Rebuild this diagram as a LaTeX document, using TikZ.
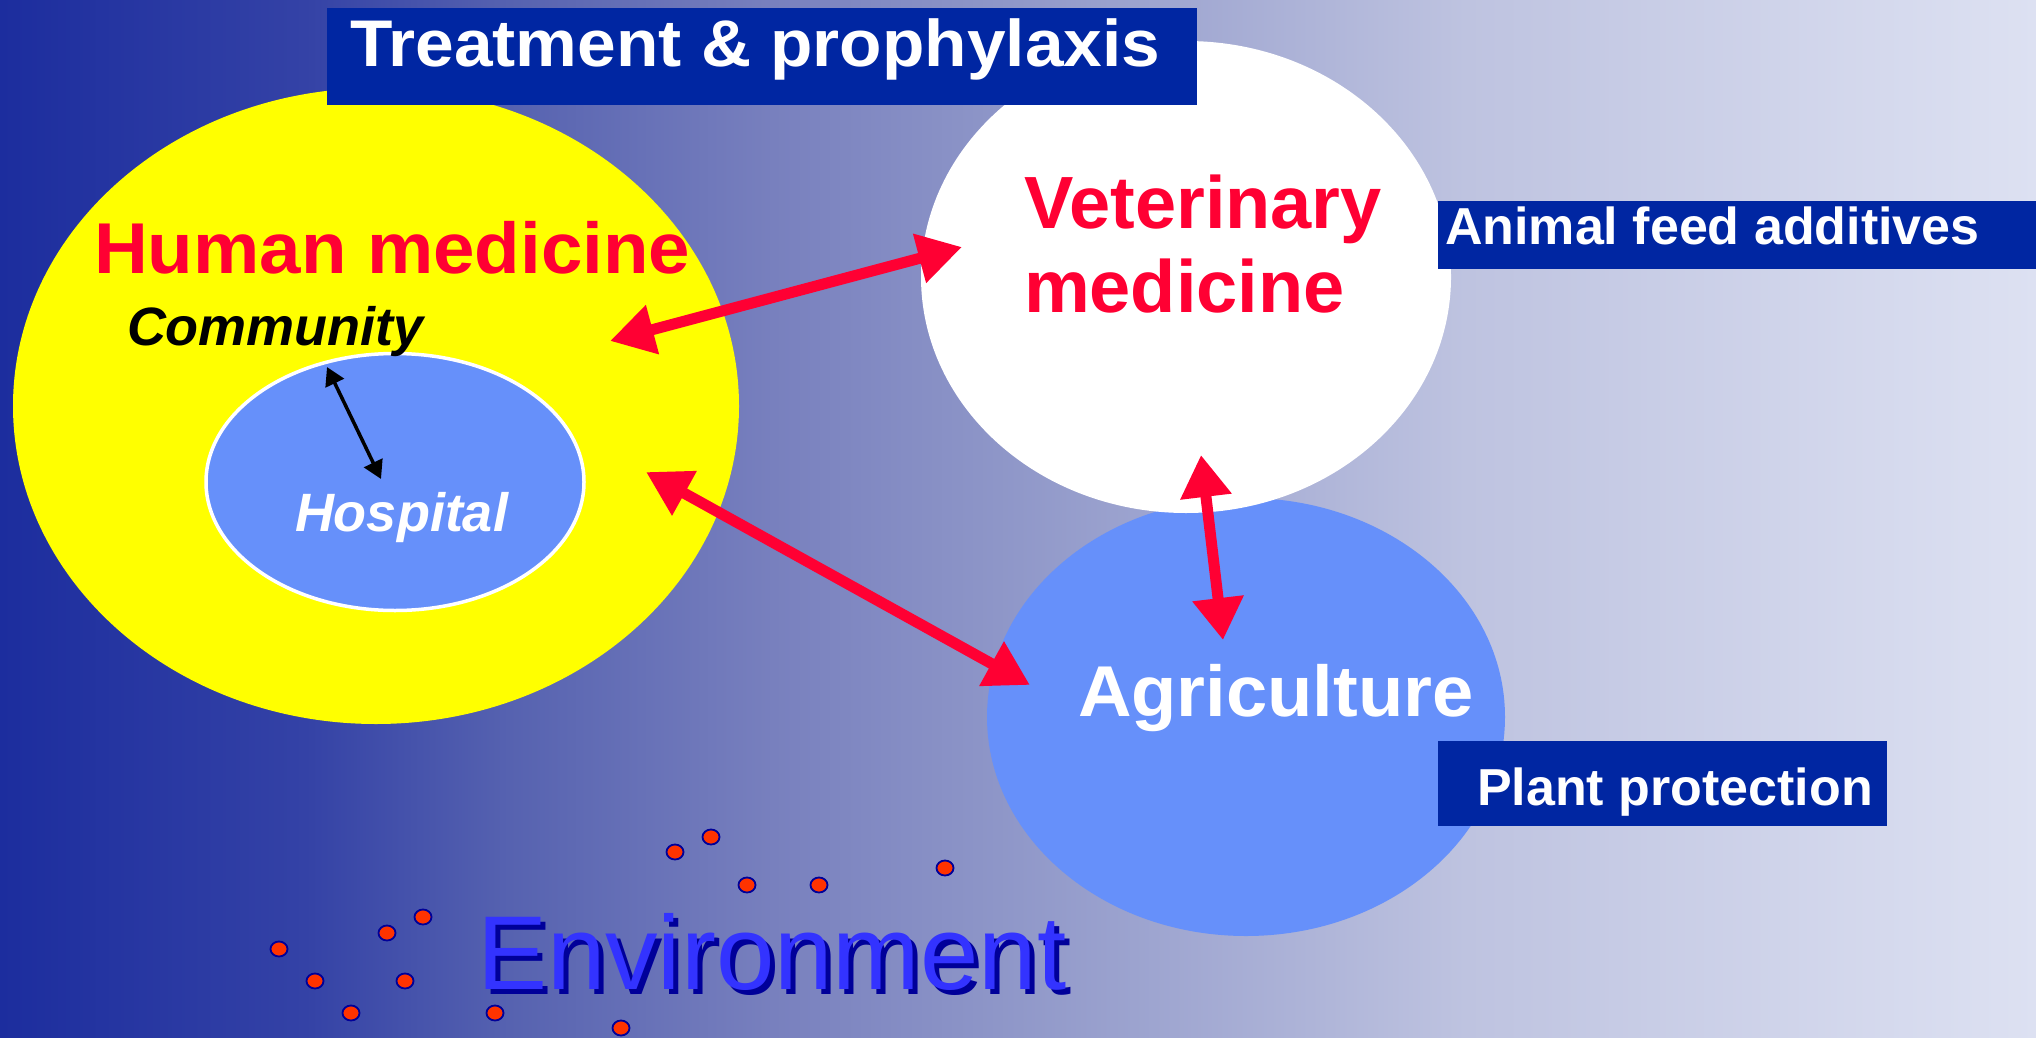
\documentclass[tikz,border=0pt]{standalone}
\usepackage{fontspec}
\usepackage{graphicx}
\setmainfont{Liberation Sans}
\usetikzlibrary{shapes.geometric,arrows.meta}
\definecolor{c0}{RGB}{28,45,158}
\definecolor{c1}{RGB}{52,66,166}
\definecolor{c2}{RGB}{86,98,176}
\definecolor{c3}{RGB}{120,128,190}
\definecolor{c4}{RGB}{142,150,200}
\definecolor{c5}{RGB}{190,195,224}
\definecolor{c6}{RGB}{221,225,242}
\definecolor{boxblue}{HTML}{0026A2}
\definecolor{lightblue}{HTML}{6690FA}
\definecolor{humanyellow}{HTML}{FFFF00}
\definecolor{medred}{HTML}{FF0033}
\definecolor{envblue}{HTML}{3333FF}
\definecolor{envshadow}{HTML}{000099}
\definecolor{dotred}{HTML}{FF3300}
\pgfdeclarehorizontalshading{bgshade}{100bp}{color(0bp)=(c0); color(25bp)=(c0); color(32.5bp)=(c1); color(37.5bp)=(c2); color(44bp)=(c3); color(49.5bp)=(c4); color(61bp)=(c5); color(75bp)=(c6); color(100bp)=(c6)}
\begin{document}
\begin{tikzpicture}[x=1pt,y=-1pt,
  lbl/.style={anchor=base west, inner sep=0pt, outer sep=0pt},
  region/.style={ellipse, inner sep=0pt, outer sep=0pt},
  labelbox/.style={rectangle, fill=boxblue, anchor=north west, inner sep=0pt, outer sep=0pt},
  redarrow/.style={draw=medred, line width=11pt, arrows={Triangle[length=44pt,width=48pt]-Triangle[length=44pt,width=48pt]}},
  blackarrow/.style={draw=black, line width=3.5pt, arrows={Triangle[length=18pt,width=20pt]-Triangle[length=18pt,width=20pt]}},
  envdot/.style={ellipse, draw=envshadow, fill=dotred, line width=1.8pt, minimum width=17pt, minimum height=15pt, inner sep=0pt}
]
\useasboundingbox (0,0) rectangle (2036,1038);
\shade[shading=bgshade] (0,0) rectangle (2036,1038);

% regions
\node[region, fill=humanyellow, minimum width=726pt, minimum height=636pt] (human) at (376,406) {};
\node[region, fill=lightblue, draw=white, line width=3.5pt, minimum width=378pt, minimum height=257pt] (hospital) at (395,482) {};
\node[region, fill=lightblue, minimum width=518pt, minimum height=438pt] (agri) at (1246,717) {};
\node[region, fill=white, minimum width=530pt, minimum height=472pt] (vet) at (1186,277) {};

% label boxes
\node[labelbox, minimum width=870pt, minimum height=97pt] (titlebox) at (327,8) {};
\node[labelbox, minimum width=598pt, minimum height=68pt] (feedbox) at (1438,201) {};
\node[labelbox, minimum width=449pt, minimum height=85pt] (plantbox) at (1438,741) {};

% texts
\node[lbl, text=white, font=\bfseries\fontsize{66}{70}\selectfont] (titletext) at (350,67) {\scalebox{1.052}[1]{Treatment \& prophylaxis}};
\node[lbl, text=white, font=\bfseries\fontsize{52}{56}\selectfont] (feedtext) at (1445,244) {Animal feed additives};
\node[lbl, text=white, font=\bfseries\fontsize{52}{56}\selectfont] (planttext) at (1477,805) {Plant protection};
\node[lbl, text=medred, font=\bfseries\fontsize{72}{76}\selectfont] (humantext) at (94,273) {\scalebox{1.035}[1]{Human medicine}};
\node[lbl, text=black, font=\bfseries\itshape\fontsize{54}{58}\selectfont] (communitytext) at (127,345) {Community};
\node[lbl, text=white, font=\bfseries\itshape\fontsize{54}{58}\selectfont] (hospitaltext) at (295,531) {Hospital};
\node[lbl, text=medred, font=\bfseries\fontsize{74}{78}\selectfont] (vettext1) at (1024,228) {Veterinary};
\node[lbl, text=medred, font=\bfseries\fontsize{74}{78}\selectfont] (vettext2) at (1024,312) {medicine};
\node[lbl, text=white, font=\bfseries\fontsize{72}{76}\selectfont] (agritext) at (1078,716) {\scalebox{1.03}[1]{Agriculture}};
\node[lbl, text=envblue, font=\fontsize{105}{110}\selectfont] (envtext) at (477,989) {\rlap{\hspace{5pt}\raisebox{-5pt}{\textcolor{envshadow}{Environment}}}Environment};

% dots
\node[envdot] (d1) at (675,852) {};
\node[envdot] (d2) at (711,837) {};
\node[envdot] (d3) at (747,885) {};
\node[envdot] (d4) at (819,885) {};
\node[envdot] (d5) at (945,868) {};
\node[envdot] (d6) at (423,917) {};
\node[envdot] (d7) at (387,933) {};
\node[envdot] (d8) at (279,949) {};
\node[envdot] (d9) at (315,981) {};
\node[envdot] (d10) at (405,981) {};
\node[envdot] (d11) at (351,1013) {};
\node[envdot] (d12) at (495,1013) {};
\node[envdot] (d13) at (621,1028) {};

% arrow endpoints
\coordinate (hvA) at (610,341);
\coordinate (hvB) at (962,247);
\coordinate (haA) at (646,472);
\coordinate (haB) at (1030,685);
\coordinate (vaA) at (1201,455);
\coordinate (vaB) at (1223,640);
\coordinate (chA) at (327,367);
\coordinate (chB) at (381,479);

\draw[redarrow] (hvA) -- (hvB);
\draw[redarrow] (haA) -- (haB);
\draw[redarrow, arrows={Triangle[length=42pt,width=49pt]-Triangle[length=42pt,width=49pt]}] (vaA) -- (vaB);
\draw[blackarrow] (chA) -- (chB);
\end{tikzpicture}
\end{document}
